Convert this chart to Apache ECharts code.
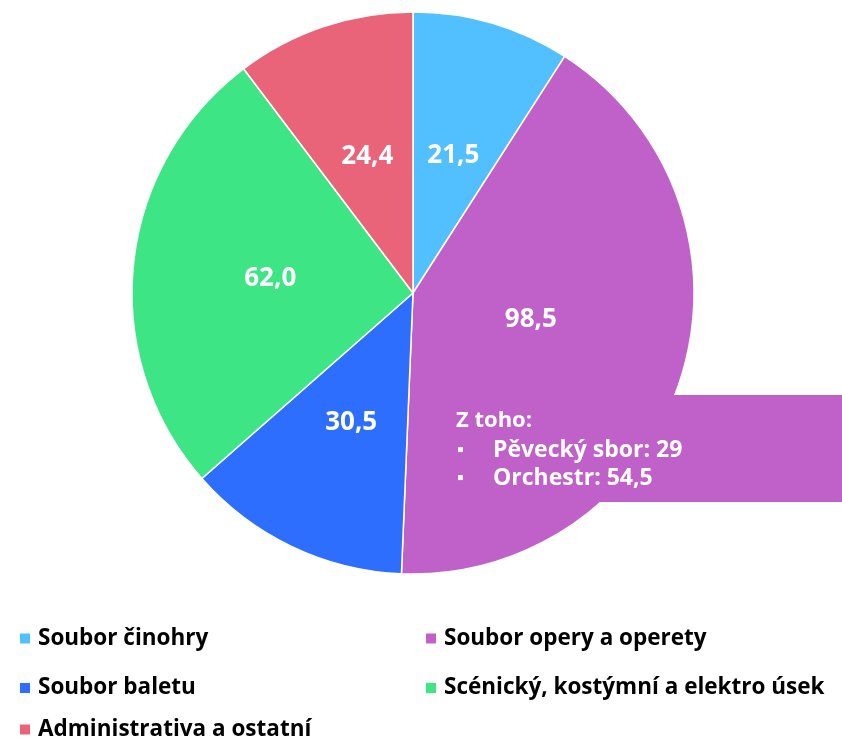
<!DOCTYPE html>
<html><head><meta charset="utf-8">
<script src="https://cdn.jsdelivr.net/npm/echarts@6/dist/echarts.min.js"></script>
<style>html,body{margin:0;padding:0;background:#fff}#c{width:842px;height:741px}</style>
</head><body><div id="c"></div>
<script>
const categories = ['Soubor činohry','Soubor opery a operety','Soubor baletu','Scénický, kostýmní a elektro úsek','Administrativa a ostatní'];
const values = [21.5, 98.5, 30.5, 62.0, 24.4];
const colors = ['#52BFFF','#BF61C8','#2E6EFF','#3EE585','#E96479'];
const noteTitle = 'Z toho:';
const noteItems = ['Pěvecký sbor: 29','Orchestr: 54,5'];

const FONT = '"Open Sans", "Noto Sans", sans-serif';
const chart = echarts.init(document.getElementById('c'));
const data = categories.map((n,i)=>{
  const d = {name:n, value:values[i], itemStyle:{color:colors[i]}};
  if (i===1) d.label = {offset:[-19,-17]};
  return d;
});
const legendStyle = {fontSize:22.5, fontWeight:'bold', color:'#000', fontFamily:FONT, padding:[0,0,0,2]};
const legBase = {orient:'vertical', itemWidth:12, itemHeight:12, itemGap:26.5, icon:'rect', textStyle:legendStyle, selectedMode:false, padding:0};
chart.setOption({
  animation:false,
  legend:[
    Object.assign({}, legBase, {left:18, top:627, data:[categories[0],categories[2]]}),
    Object.assign({}, legBase, {left:18, top:718, data:[categories[4]]}),
    Object.assign({}, legBase, {left:424, top:627, data:[categories[1],categories[3]]})
  ],
  series:[{
    type:'pie', center:[413,293], radius:[0,281], startAngle:90, clockwise:true,
    itemStyle:{borderColor:'#fff', borderWidth:1.5},
    label:{show:true, position:'inside', color:'#fff', fontSize:26, fontWeight:'bold', fontFamily:FONT,
      formatter:p=>p.value.toFixed(1).replace('.',',')},
    labelLine:{show:false},
    emphasis:{disabled:true},
    data:data
  }],
  graphic:[
    {type:'rect', shape:{x:440,y:395,width:402,height:107}, style:{fill:colors[1]}, z:10},
    {type:'text', x:456, y:421, z:11, style:{text:noteTitle, fill:'#fff', font:'bold 22px '+FONT, verticalAlign:'middle'}},
    {type:'text', x:457, y:450, z:11, style:{text:'▪', fill:'#fff', font:'bold 20px '+FONT, verticalAlign:'middle'}},
    {type:'text', x:493, y:450, z:11, style:{text:noteItems[0], fill:'#fff', font:'bold 23px '+FONT, verticalAlign:'middle'}},
    {type:'text', x:457, y:478, z:11, style:{text:'▪', fill:'#fff', font:'bold 20px '+FONT, verticalAlign:'middle'}},
    {type:'text', x:493, y:478, z:11, style:{text:noteItems[1], fill:'#fff', font:'bold 23px '+FONT, verticalAlign:'middle'}}
  ]
});
</script></body></html>
